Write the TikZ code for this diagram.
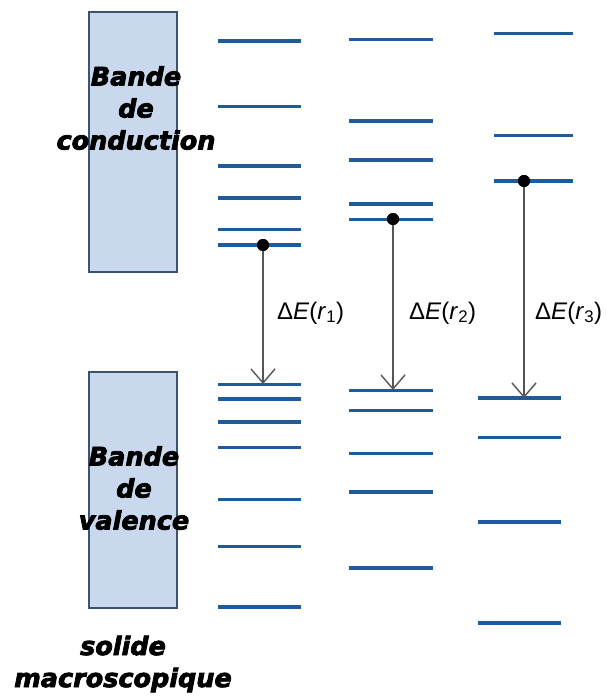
\documentclass[tikz,border=0pt]{standalone}
\usepackage{fontspec}
\setmainfont{Liberation Sans}
\newfontfamily\boxfont[BoldItalicFeatures={FakeBold=3}]{DejaVu Sans}
\usetikzlibrary{arrows.meta}
\definecolor{lvl}{HTML}{1F5B9A}
\definecolor{bandfill}{HTML}{C9D8EC}
\definecolor{bandedge}{HTML}{3C5272}
\definecolor{arr}{HTML}{555555}
\tikzset{
  band/.style={draw=bandedge, line width=2.2pt, fill=bandfill},
  bandtext/.style={font=\boxfont\bfseries\itshape\fontsize{25.5}{32}\selectfont, align=center, text=black},
  thinlvl/.style={draw=lvl, line width=3pt},
  thicklvl/.style={draw=lvl, line width=4.6pt},
  dot/.style={circle, fill=black, inner sep=0pt, minimum size=12pt},
  trans/.style={draw=arr, line width=1.4pt, -{Straight Barb[length=14pt,width=24pt,line width=1.4pt]}},
  dlabel/.style={font=\fontsize{24}{28}\selectfont, anchor=west, inner sep=0pt}
}
\begin{document}
\begin{tikzpicture}[x=1pt,y=-1pt]
\useasboundingbox (0,0) rectangle (607,698);
% bands
\draw[band] (89,12) rectangle (177,272);
\draw[band] (89,372) rectangle (177,608);
\node[bandtext] (cb) at (136,108) {Bande\\de\\conduction};
\node[bandtext] (vb) at (134,488) {Bande\\de\\valence};
\node[bandtext] (sm) at (123,664) {solide\\macroscopique};
% column 1 conduction
\draw[thicklvl] (218,41) -- (301,41);
\draw[thinlvl] (218,107) -- (301,107);
\draw[thicklvl] (218,166) -- (301,166);
\draw[thicklvl] (218,198) -- (301,198);
\draw[thinlvl] (218,229) -- (301,229);
\draw[thicklvl] (218,245) -- (301,245);
% column 2 conduction
\draw[thinlvl] (349,40) -- (433,40);
\draw[thicklvl] (349,121) -- (433,121);
\draw[thicklvl] (349,160) -- (433,160);
\draw[thicklvl] (349,204) -- (433,204);
\draw[thinlvl] (349,219) -- (433,219);
% column 3 conduction
\draw[thinlvl] (494,34) -- (573,34);
\draw[thinlvl] (494,135) -- (573,135);
\draw[thicklvl] (494,181) -- (573,181);
% column 1 valence
\draw[thinlvl] (218,384) -- (301,384);
\draw[thicklvl] (218,399) -- (301,399);
\draw[thicklvl] (218,422) -- (301,422);
\draw[thinlvl] (218,447) -- (301,447);
\draw[thinlvl] (218,499) -- (301,499);
\draw[thinlvl] (218,546) -- (301,546);
\draw[thicklvl] (218,607) -- (301,607);
% column 2 valence
\draw[thinlvl] (349,390) -- (433,390);
\draw[thinlvl] (349,410) -- (433,410);
\draw[thinlvl] (349,453) -- (433,453);
\draw[thicklvl] (349,492) -- (433,492);
\draw[thicklvl] (349,568) -- (433,568);
% column 3 valence
\draw[thicklvl] (478,398) -- (561,398);
\draw[thinlvl] (478,437) -- (561,437);
\draw[thicklvl] (478,522) -- (561,522);
\draw[thicklvl] (478,623) -- (561,623);
% transitions
\coordinate (e1) at (263,384);
\coordinate (e2) at (393,390);
\coordinate (e3) at (524,398);
\node[dot] (d1) at (263,245) {};
\node[dot] (d2) at (393,219) {};
\node[dot] (d3) at (524,181) {};
\draw[trans] (d1.center) -- (e1);
\draw[trans] (d2.center) -- (e2);
\draw[trans] (d3.center) -- (e3);
\node[dot] at (d1) {};
\node[dot] at (d2) {};
\node[dot] at (d3) {};
\node[dlabel] (l1) at (277,313) {Δ\textit{E}(\textit{r}\textsubscript{1})};
\node[dlabel] (l2) at (409,313) {Δ\textit{E}(\textit{r}\textsubscript{2})};
\node[dlabel] (l3) at (535,313) {Δ\textit{E}(\textit{r}\textsubscript{3})};
\end{tikzpicture}
\end{document}
